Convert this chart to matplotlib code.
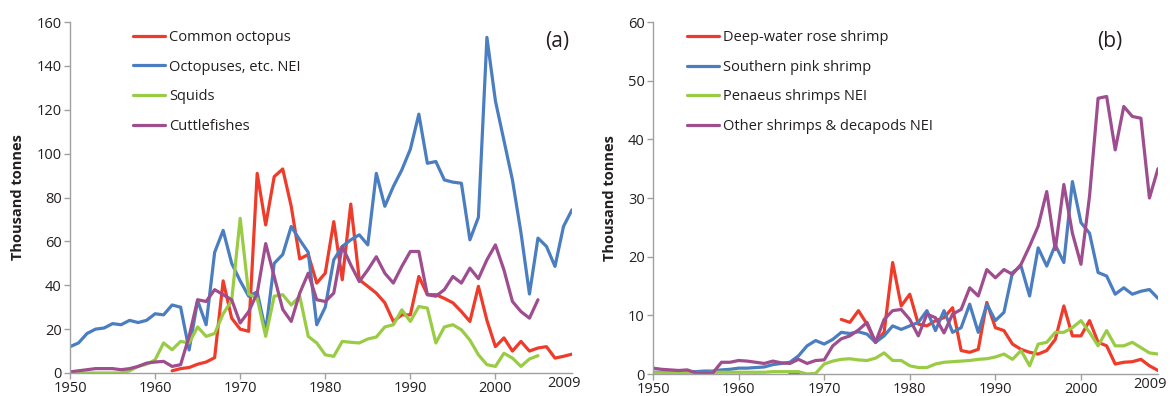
import numpy as np
import matplotlib
matplotlib.use("Agg")
import matplotlib.pyplot as plt

plt.rcParams['font.family'] = ['Open Sans', 'DejaVu Sans']

# ---------------- Panel (a) data ----------------
years_a = list(range(1950, 2010))
common_octopus = [np.nan]*12 + [
    1, 2, 2.5, 4, 5, 7, 42, 25,            # 1962-1969
    20, 19, 91, 67.5, 89.5, 93, 76, 52, 54, 41,   # 1970-1979
    45.5, 69, 42.5, 77, 42.5, 39.5, 36.4, 32, 23.5, 26.5,  # 1980-1989
    26.5, 44, 35.7, 35.7, 34, 32, 28, 23.5, 39.5, 24,      # 1990-1999
    12, 16, 10, 14.4, 10, 11.4, 12, 6.8, 7.6, 8.6]         # 2000-2009
octopuses_nei = [
    12, 13.7, 18, 20, 20.5, 22.5, 22, 24, 23, 24,          # 1950s
    27, 26.5, 31, 30, 10.5, 33, 22, 55, 65, 50,            # 1960s
    42, 35, 37, 19, 50, 54, 66.8, 60.7, 55, 22,            # 1970s
    30, 51.6, 57.7, 60.7, 63, 58.4, 91, 76, 85, 92.6,      # 1980s
    102, 118, 95.6, 96.4, 88, 87, 86.5, 60.7, 71, 153,     # 1990s
    124, 106, 88, 64, 36, 61.5, 57.7, 48.6, 66.8, 74.4]    # 2000s
squids = [
    0, 0, 0, 0, 0, 0, 0, 1, 3, 4,
    6, 13.7, 10.6, 14.4, 13.7, 21, 16.7, 18, 27, 33,
    70.5, 36, 34, 16.7, 35, 35.7, 31, 35, 16.7, 13.7,
    8.3, 7.6, 14.4, 14, 13.7, 15.5, 16.4, 21, 22, 28.8,
    23.5, 30.3, 29.6, 13.7, 21, 22, 19.7, 15, 8.3, 3.8,
    3, 9, 6.8, 3, 6.4, 7.9] + [np.nan]*4
cuttlefishes = [
    0.5, 1, 1.5, 2, 2, 2, 1.5, 2, 3, 4.5,
    5, 5.3, 3, 3.8, 16.7, 33.4, 32.6, 38, 35.7, 33.4,
    22.8, 28, 36.4, 59, 44, 29, 23.5, 36.4, 45.5, 33.4,
    32.6, 36.4, 57.7, 49.3, 41.7, 47, 53, 45.5, 41, 48.6,
    55.4, 55.4, 35.7, 35, 38, 44, 41, 47.8, 43, 51.6,
    58.4, 47, 32.6, 28, 25, 33.4] + [np.nan]*4
labels_a = ['Common octopus', 'Octopuses, etc. NEI', 'Squids', 'Cuttlefishes']

# ---------------- Panel (b) data ----------------
years_b = list(range(1950, 2010))
deepwater_rose = [np.nan]*16 + [0.15, 0.05, np.nan, np.nan, np.nan, np.nan] + [
    9.3, 8.8, 10.8, 8.5, 5.4, 7.1, 19, 11.6,           # 1972-1979
    13.6, 8.5, 8.2, 9.1, 9.6, 11.3, 4, 3.7, 4.2, 12.2,  # 1980s
    7.9, 7.4, 5.1, 4.2, 3.7, 3.4, 4, 5.9, 11.6, 6.5,    # 1990s
    6.5, 9.1, 5.4, 4.8, 1.7, 2, 2.1, 2.5, 1.4, 0.6]     # 2000s
southern_pink = [
    0.3, 0.3, 0.3, 0.4, 0.4, 0.4, 0.5, 0.5, 0.7, 0.8,
    1.0, 1.0, 1.1, 1.2, 1.6, 1.8, 2.0, 3.1, 4.8, 5.7,
    5.1, 5.9, 7.1, 6.9, 7.2, 6.8, 5.4, 6.5, 8.2, 7.6,
    8.2, 8.8, 10.8, 7.4, 10.8, 7.1, 7.9, 11.9, 7.1, 11.9,
    9.1, 10.5, 17.3, 18.4, 13.3, 21.5, 18.4, 22, 19, 32.8,
    25.8, 24, 17.3, 16.7, 13.6, 14.7, 13.6, 14.1, 14.4, 12.9]
penaeus = [
    0.2, 0.2, 0.2, 0.2, 0.2, 0.2, 0.2, 0.3, 0.3, 0.3,
    0.3, 0.3, 0.3, 0.3, 0.4, 0.4, 0.4, 0.4, 0.0, 0.1,
    1.7, 2.2, 2.5, 2.6, 2.4, 2.3, 2.7, 3.6, 2.3, 2.3,
    1.4, 1.1, 1.1, 1.7, 2.0, 2.1, 2.2, 2.3, 2.5, 2.6,
    2.9, 3.4, 2.5, 4.0, 1.4, 5.1, 5.4, 7.1, 7.1, 7.9,
    9.1, 7.1, 4.8, 7.4, 4.8, 4.8, 5.4, 4.5, 3.6, 3.4]
other_shrimps = [
    1.0, 0.8, 0.7, 0.6, 0.7, 0.2, 0.2, 0.2, 2.0, 2.0,
    2.3, 2.2, 2.0, 1.8, 2.2, 1.9, 1.8, 2.5, 1.8, 2.3,
    2.4, 4.8, 6.0, 6.5, 7.5, 8.8, 5.4, 9.3, 10.8, 11.0,
    9.3, 6.5, 10.2, 9.6, 7.0, 10.2, 11.0, 14.7, 13.3, 17.8,
    16.4, 17.8, 17.0, 18.7, 21.8, 25.2, 31.1, 21.2, 32.3, 24.0,
    18.7, 30.3, 47.0, 47.3, 38.2, 45.6, 43.9, 43.6, 30.0, 35.0]
labels_b = ['Deep-water rose shrimp', 'Southern pink shrimp',
            'Penaeus shrimps NEI', 'Other shrimps & decapods NEI']

colors = ['#ee3b2a', '#4a7ec0', '#99cc44', '#9e4d8e']
xticks = [1950, 1960, 1970, 1980, 1990, 2000]

W, H = 1171, 396
fig = plt.figure(figsize=(W/100, H/100), dpi=100)

def make_axes(left_px, right_px, top_px, bottom_px):
    return fig.add_axes([left_px/W, 1 - bottom_px/H,
                         (right_px-left_px)/W, (bottom_px-top_px)/H])

ax_a = make_axes(70, 572, 22, 373)
ax_b = make_axes(653, 1158, 22, 374)

text_color = '#231f20'
spine_color = '#a0a0a0'

def style(ax, ymax, ystep, panel, leg_x, labels, series, years, panel_x):
    for s, c, lab in zip(series, colors, labels):
        ax.plot(years, s, color=c, lw=2.3, label=lab,
                solid_joinstyle='round', solid_capstyle='round')
    ax.set_xlim(1950, 2009)
    ax.set_ylim(0, ymax)
    ax.set_yticks(np.arange(0, ymax + 1, ystep))
    ax.set_xticks(xticks)
    for sp in ['top', 'right']:
        ax.spines[sp].set_visible(False)
    for sp in ['left', 'bottom']:
        ax.spines[sp].set_color(spine_color)
        ax.spines[sp].set_linewidth(1.0)
    ax.tick_params(axis='both', colors=spine_color, labelcolor=text_color,
                   labelsize=10.5, length=4, width=1.0, direction='out', pad=2)
    ax.annotate('2009', xy=(2009, 0), xycoords=('data', 'axes fraction'),
                xytext=(-6, -2), textcoords='offset points',
                ha='center', va='top', fontsize=10.5, color=text_color)
    ax.set_ylabel('Thousand tonnes', fontsize=10.5, fontweight='bold',
                  color=text_color, labelpad=8)
    ax.text(panel_x, 0.945, panel, transform=ax.transAxes, fontsize=15,
            ha='center', va='center', color=text_color)
    leg = ax.legend(loc='upper left', bbox_to_anchor=(leg_x, 0.978),
                    frameon=False, fontsize=10.5, handlelength=2.2,
                    handletextpad=0.3, labelspacing=1.02, borderpad=0,
                    borderaxespad=0)
    for t in leg.get_texts():
        t.set_color(text_color)

style(ax_a, 160, 20, '(a)', 0.125, labels_a,
      [common_octopus, octopuses_nei, squids, cuttlefishes], years_a, 0.97)
style(ax_b, 60, 10, '(b)', 0.067, labels_b,
      [deepwater_rose, southern_pink, penaeus, other_shrimps], years_b, 0.905)

fig.savefig('out.png', dpi=100)
